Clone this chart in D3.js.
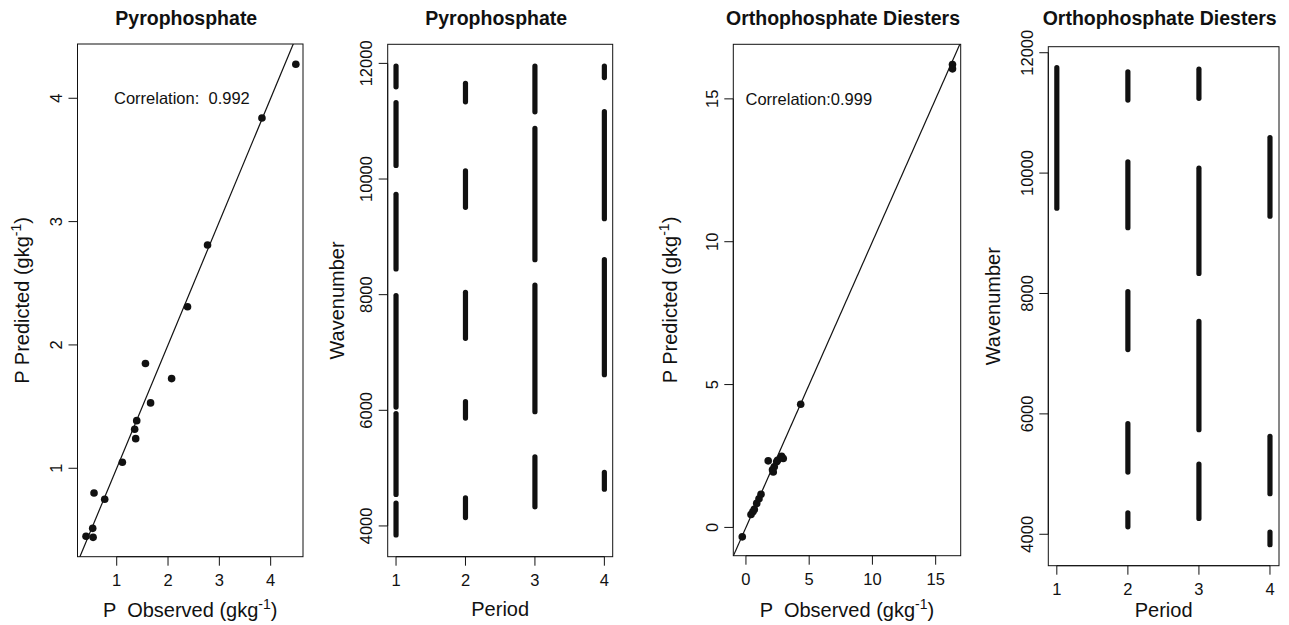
<!DOCTYPE html>
<html>
<head>
<meta charset="utf-8">
<script src="https://cdn.jsdelivr.net/npm/d3@7"></script>
<style>
  body { margin: 0; background: #fff; }
  svg text { font-family: "Liberation Sans", Arial, Helvetica, sans-serif; fill: #111; }
</style>
</head>
<body>
<div id="chart"></div>
<script>
// Panel 1: Pyrophosphate, observed vs predicted
var pyroObserved  = [4.49, 3.83, 2.77, 2.38, 1.56, 2.07, 1.66, 1.39, 1.35, 1.37, 1.11, 0.558, 0.766, 0.532, 0.402, 0.54];
var pyroPredicted = [4.276, 3.84, 2.81, 2.31, 1.85, 1.727, 1.53, 1.386, 1.316, 1.24, 1.049, 0.80, 0.749, 0.513, 0.449, 0.44];

// Panel 3: Orthophosphate diesters, observed vs predicted
var diestObserved  = [16.33, 16.33, 4.33, -0.29, 0.40, 0.55, 0.66, 0.85, 1.03, 1.19, 1.76, 2.10, 2.16, 2.24, 2.43, 2.50, 2.82, 2.95];
var diestPredicted = [16.20, 16.05, 4.31, -0.33, 0.45, 0.55, 0.63, 0.84, 1.00, 1.16, 2.33, 2.02, 1.94, 2.12, 2.30, 2.35, 2.49, 2.41];

// fitted lines (intercept, slope)
var pyroFit = [0, 1];
var diestFit = [0, 1];

// Panels 2 and 4: selected wavenumber ranges per period [period, from, to]
var pyroRanges = [
  [1, 3800, 4440], [1, 4500, 5990], [1, 6010, 8030], [1, 8400, 9780], [1, 10190, 11365], [1, 11550, 12000],
  [2, 4100, 4530], [2, 5820, 6195], [2, 7200, 8085], [2, 9465, 10185], [2, 11290, 11700],
  [3, 4285, 5240], [3, 5930, 8210], [3, 8560, 10920], [3, 11118, 12000],
  [4, 4590, 4970], [4, 6570, 8650], [4, 9270, 11210], [4, 11710, 12000]
];
var diestRanges = [
  [1, 9375, 11795],
  [2, 4080, 4400], [2, 4990, 5880], [2, 7025, 8075], [2, 9050, 10230], [2, 11170, 11725],
  [3, 4220, 5210], [3, 5695, 7580], [3, 8290, 10125], [3, 11200, 11770],
  [4, 3784, 4080], [4, 4630, 5670], [4, 9240, 10635]
];

var periodTicks = [1, 2, 3, 4];
var pyroTicks = [1, 2, 3, 4];
var diestTicks = [0, 5, 10, 15];
var waveTicks = [4000, 6000, 8000, 10000, 12000];

var svg = d3.select('#chart').append('svg')
  .attr('width', 1289)
  .attr('height', 625);

var tickFont = 16.5, labFont = 20, titleFont = 19.5;

// draws box, axes, title and labels for one panel, returns scales
function panel(opt) {
  var x = d3.scaleLinear().domain(opt.xDomain).range([opt.left, opt.right]);
  var y = d3.scaleLinear().domain(opt.yDomain).range([opt.bottom, opt.top]);

  var g = svg.append('g');

  // x axis (line spans first to last tick, R style)
  var xa = g.append('g');
  xa.append('line')
    .attr('x1', x(opt.xTicks[0])).attr('x2', x(opt.xTicks[opt.xTicks.length - 1]))
    .attr('y1', opt.bottom).attr('y2', opt.bottom)
    .attr('stroke', '#111');
  opt.xTicks.forEach(function(t) {
    xa.append('line')
      .attr('x1', x(t)).attr('x2', x(t))
      .attr('y1', opt.bottom).attr('y2', opt.bottom + 9)
      .attr('stroke', '#111');
    xa.append('text')
      .attr('x', x(t)).attr('y', opt.bottom + 24)
      .attr('dy', '0.35em')
      .attr('text-anchor', 'middle')
      .style('font-size', tickFont + 'px')
      .text(t);
  });

  // y axis
  var ya = g.append('g');
  var yt = opt.yTicks.filter(function(t) { return t >= opt.yDomain[0] && t <= opt.yDomain[1]; });
  ya.append('line')
    .attr('x1', opt.left).attr('x2', opt.left)
    .attr('y1', y(yt[0])).attr('y2', y(yt[yt.length - 1]))
    .attr('stroke', '#111');
  yt.forEach(function(t) {
    ya.append('line')
      .attr('x1', opt.left - 9).attr('x2', opt.left)
      .attr('y1', y(t)).attr('y2', y(t))
      .attr('stroke', '#111');
    ya.append('text')
      .attr('transform', 'translate(' + (opt.left - 21) + ',' + y(t) + ') rotate(-90)')
      .attr('dy', '0.35em')
      .attr('text-anchor', 'middle')
      .style('font-size', tickFont + 'px')
      .text(t);
  });

  // box
  g.append('rect')
    .attr('x', opt.left).attr('y', opt.top)
    .attr('width', opt.right - opt.left).attr('height', opt.bottom - opt.top)
    .attr('fill', 'none').attr('stroke', '#111');

  // title
  g.append('text')
    .attr('x', (opt.left + opt.right) / 2 - 4).attr('y', 25)
    .attr('text-anchor', 'middle')
    .style('font-size', titleFont + 'px')
    .style('font-weight', 'bold')
    .text(opt.title);

  // x label
  var xl = g.append('text')
    .attr('x', (opt.left + opt.right) / 2).attr('y', opt.xLabY)
    .attr('text-anchor', 'middle')
    .style('font-size', labFont + 'px')
    .style('white-space', 'pre');
  xl.append('tspan').text(opt.xLab);
  if (opt.xSup) {
    xl.append('tspan').attr('dy', -8).style('font-size', '14px').text('-1');
    xl.append('tspan').attr('dy', 8).text(')');
  }

  // y label
  var yl = g.append('text')
    .attr('transform', 'translate(' + opt.yLabX + ',' + (opt.top + opt.bottom) / 2 + ') rotate(-90)')
    .attr('text-anchor', 'middle')
    .style('font-size', labFont + 'px')
    .style('white-space', 'pre');
  yl.append('tspan').text(opt.yLab);
  if (opt.ySup) {
    yl.append('tspan').attr('dy', -8).style('font-size', '14px').text('-1');
    yl.append('tspan').attr('dy', 8).text(')');
  }

  // clip for marks
  var id = 'clip' + opt.id;
  svg.append('clipPath').attr('id', id)
    .append('rect')
    .attr('x', opt.left).attr('y', opt.top)
    .attr('width', opt.right - opt.left).attr('height', opt.bottom - opt.top);

  return { x: x, y: y, g: g, clip: 'url(#' + id + ')' };
}

function scatterPanel(p, obs, pred, fit, note) {
  var x0 = p.x.domain()[0], x1 = p.x.domain()[1];
  p.g.append('line')
    .attr('clip-path', p.clip)
    .attr('x1', p.x(x0)).attr('y1', p.y(fit[0] + fit[1] * x0))
    .attr('x2', p.x(x1)).attr('y2', p.y(fit[0] + fit[1] * x1))
    .attr('stroke', '#111').attr('stroke-width', 1.2);

  p.g.selectAll('circle.pt')
    .data(obs)
    .enter().append('circle')
    .attr('class', 'pt')
    .attr('cx', function(d) { return p.x(d); })
    .attr('cy', function(d, i) { return p.y(pred[i]); })
    .attr('r', 3.8)
    .attr('fill', '#111');

  p.g.append('text')
    .attr('x', p.x(note.x)).attr('y', p.y(note.y))
    .attr('dy', '0.35em')
    .attr('text-anchor', 'middle')
    .style('font-size', tickFont + 'px')
    .style('white-space', 'pre')
    .text(note.text);
}

function rangePanel(p, ranges) {
  p.g.selectAll('rect.seg')
    .data(ranges)
    .enter().append('rect')
    .attr('class', 'seg')
    .attr('x', function(d) { return p.x(d[0]) - 2.6; })
    .attr('width', 5.2)
    .attr('y', function(d) { return p.y(d[2]); })
    .attr('height', function(d) { return p.y(d[1]) - p.y(d[2]); })
    .attr('rx', 2.6)
    .attr('fill', '#111');
}

var p1 = panel({
  id: 1, left: 77.5, right: 303, top: 44, bottom: 556.7,
  xDomain: [0.236, 4.63], yDomain: [0.283, 4.44],
  xTicks: pyroTicks, yTicks: pyroTicks,
  title: 'Pyrophosphate',
  xLab: 'P  Observed (gkg', xSup: true, xLabY: 616.5,
  yLab: 'P Predicted (gkg', ySup: true, yLabX: 28.5
});
scatterPanel(p1, pyroObserved, pyroPredicted, pyroFit, { x: 2.27, y: 4, text: 'Correlation:  0.992' });

var p2 = panel({
  id: 2, left: 387.7, right: 612.7, top: 44.3, bottom: 556.7,
  xDomain: [0.88, 4.12], yDomain: [3468, 12330],
  xTicks: periodTicks, yTicks: waveTicks,
  title: 'Pyrophosphate',
  xLab: 'Period', xLabY: 616,
  yLab: 'Wavenumber', yLabX: 344
});
rangePanel(p2, pyroRanges);

var p3 = panel({
  id: 3, left: 733.3, right: 960.7, top: 44.3, bottom: 555.7,
  xDomain: [-1.0, 16.98], yDomain: [-0.99, 16.91],
  xTicks: diestTicks, yTicks: diestTicks,
  title: 'Orthophosphate Diesters',
  xLab: 'P  Observed (gkg', xSup: true, xLabY: 617,
  yLab: 'P Predicted (gkg', ySup: true, yLabX: 676.5
});
scatterPanel(p3, diestObserved, diestPredicted, diestFit, { x: 4.97, y: 15, text: 'Correlation:0.999' });

var p4 = panel({
  id: 4, left: 1048.3, right: 1279, top: 46.7, bottom: 565.7,
  xDomain: [0.88, 4.127], yDomain: [3478, 12100],
  xTicks: periodTicks, yTicks: waveTicks,
  title: 'Orthophosphate Diesters',
  xLab: 'Period', xLabY: 616.5,
  yLab: 'Wavenumber', yLabX: 1000
});
rangePanel(p4, diestRanges);
</script>
</body>
</html>
